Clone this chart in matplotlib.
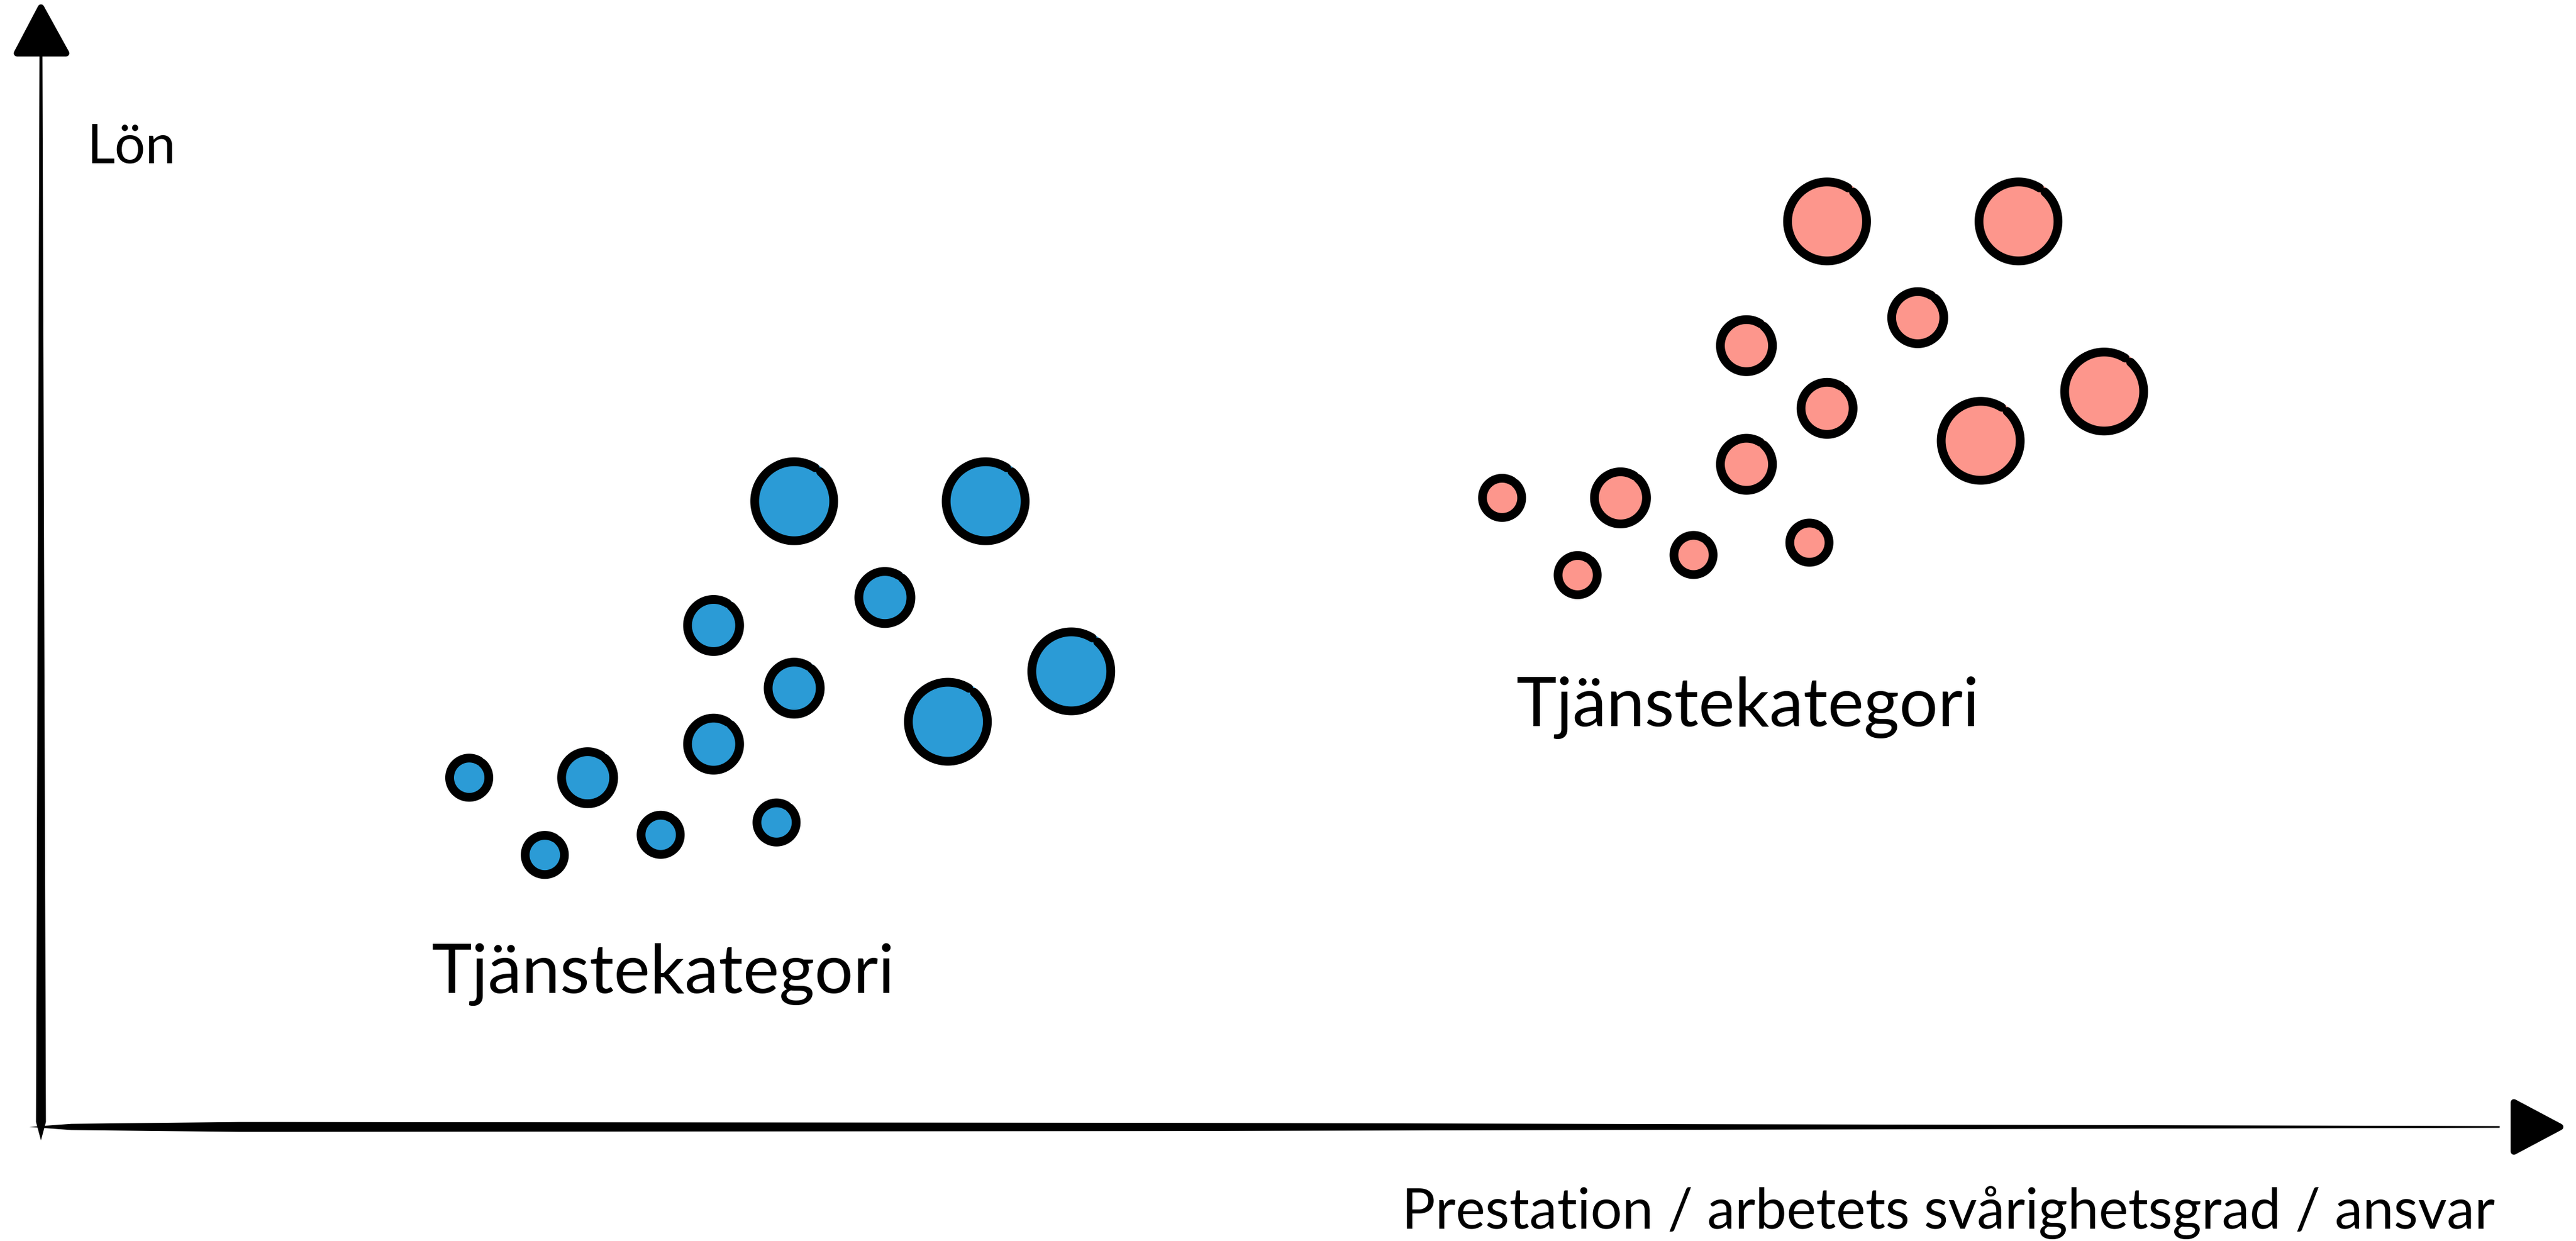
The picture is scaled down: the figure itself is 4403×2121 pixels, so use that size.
import numpy as np
import matplotlib

matplotlib.use("Agg")
import matplotlib.pyplot as plt
from matplotlib.path import Path

W, H, DPI = 4403, 2121, 200

# Prestation (x) och lön (y), 0-100 längs axlarna; storlek = 1 liten, 2 mellan, 3 stor
blue_x = [17.0, 21.7, 20.0, 24.6, 29.2, 26.7, 29.9, 26.7, 33.5, 29.9, 37.5, 36.0, 40.9]
blue_y = [31.2, 31.2, 24.3, 26.1, 27.2, 34.2, 39.2, 44.8, 47.3, 55.9, 55.9, 36.2, 40.7]
blue_size = [1, 2, 1, 1, 1, 2, 2, 2, 2, 3, 3, 3, 3]

pink_x = [58.0, 62.7, 61.0, 65.6, 70.2, 67.7, 70.9, 67.7, 74.5, 70.9, 78.5, 77.0, 81.9]
pink_y = [56.2, 56.2, 49.3, 51.1, 52.2, 59.2, 64.2, 69.8, 72.3, 80.9, 80.9, 61.3, 65.7]
pink_size = [1, 2, 1, 1, 1, 2, 2, 2, 2, 3, 3, 3, 3]

group_labels = ["Tjänstekategori", "Tjänstekategori"]
x_label = "Prestation / arbetets svårighetsgrad / ansvar"
y_label = "Lön"

BLUE = "#2B9BD6"
PINK = "#FD968C"
FONT = ["Lato", "DejaVu Sans"]

XMIN, XMAX = -1.626, 100.63
YMIN, YMAX = -10.19, 100.68
UX = (XMAX - XMIN) / W  # dataenheter per pixel
UY = (YMAX - YMIN) / H
PT = DPI / 72.0

RADIUS_PX = {1: 41, 2: 52, 3: 75}
RING_PX = 15

fig = plt.figure(figsize=(W / DPI, H / DPI), dpi=DPI)
ax = fig.add_axes([0, 0, 1, 1])
ax.set_xlim(XMIN, XMAX)
ax.set_ylim(YMIN, YMAX)
ax.axis("off")

# ring med liten lucka uppe till höger, som en penselstrek
ang = np.radians(np.linspace(58, 408, 300))
ring = Path(np.column_stack([np.cos(ang), np.sin(ang)]))


def bubbles(xs, ys, sizes, color):
    d = np.array([(2 * RADIUS_PX[s] - RING_PX) / PT for s in sizes])
    ax.scatter(xs, ys, s=(d + RING_PX / PT - 0.5) ** 2, c=color, marker="o",
               linewidths=0, zorder=3)
    ax.scatter(xs, ys, s=d**2, marker=ring, facecolors="none",
               edgecolors="black", linewidths=RING_PX / PT, zorder=4,
               capstyle="round")


bubbles(blue_x, blue_y, blue_size, BLUE)
bubbles(pink_x, pink_y, pink_size, PINK)

# y-axel: avsmalnande skaft + pilhuvud vid (0, 100)
t = np.linspace(0, 1, 60)
ys = -1.2 + t * (95.9 + 1.2)
w = np.where(ys < 0, 17 * np.sqrt(np.clip((ys + 1.2) / 1.2, 0, 1)), 17 - 12 * (ys / 95.9))
xs_l = 0.0 - w / 2 * UX
xs_r = 0.0 + w / 2 * UX
ax.fill(np.concatenate([xs_l, xs_r[::-1]]), np.concatenate([ys, ys[::-1]]),
        color="black", lw=0, zorder=2)
ax.fill([0, -41 * UX, 43 * UX], [100, 100 - 78 * UY, 100 - 78 * UY],
        color="black", lw=4, joinstyle="round", zorder=2)

# x-axel: skaft + pilhuvud vid (100, 0)
xs = -0.46 + t * (97.6 + 0.46)
w = np.interp(xs, [-0.46, 0.5, 8, 45, 97.6], [0, 10, 17, 14, 3])
ax.fill(np.concatenate([xs, xs[::-1]]),
        np.concatenate([w / 2 * UY, -w[::-1] / 2 * UY]),
        color="black", lw=0, zorder=2)
ax.fill([100, 100 - 79 * UX, 100 - 79 * UX], [0, 42 * UY, -42 * UY],
        color="black", lw=4, joinstyle="round", zorder=2)

ax.text(1.83, 86.1, y_label, fontsize=33.5, family=FONT, ha="left", va="baseline")
ax.text(97.4, -9.1, x_label, fontsize=34.4, family=FONT, ha="right", va="baseline")
ax.text(15.5, 12.0, group_labels[0], fontsize=42, family=FONT, ha="left", va="baseline")
ax.text(58.55, 35.8, group_labels[1], fontsize=42, family=FONT, ha="left", va="baseline")

fig.savefig("out.png", dpi=DPI, facecolor="white")
